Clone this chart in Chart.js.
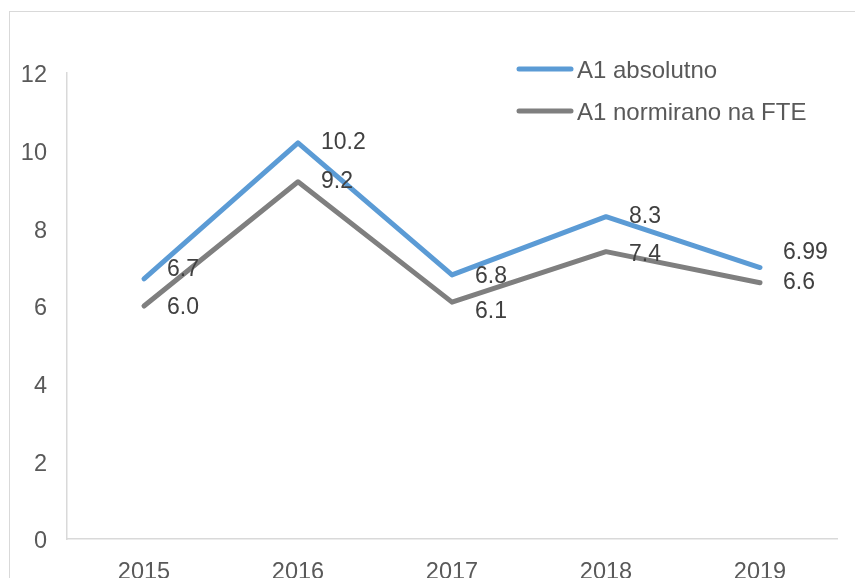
<!DOCTYPE html>
<html>
<head>
<meta charset="utf-8">
<script src="https://cdn.jsdelivr.net/npm/chart.js@4"></script>
<style>
html, body { margin:0; padding:0; background:#fff; }
#wrap { width:855px; height:578px; }
</style>
</head>
<body>
<div id="wrap"><canvas id="a1Chart" width="855" height="578"></canvas></div>
<script>
const years = ['2015','2016','2017','2018','2019'];

const absolutno = [6.7, 10.2, 6.8, 8.3, 6.99];
const normirano = [6.0, 9.2, 6.1, 7.4, 6.6];

const seriesNames = ['A1 absolutno','A1 normirano na FTE'];

const yTicks = [0, 2, 4, 6, 8, 10, 12];

const FONT = '"Liberation Sans", Arial, sans-serif';

// small vertical nudges for the value labels, like in the original
const labelNudge = [
[-9, 0, 2, 0, -15],
[2, 0, 10, 3, 0]
];

const labelFormat = [
v => String(v),
v => v.toFixed(1)
];

const frame = {
id:'frame',
beforeDraw(chart){
const ctx = chart.ctx;
ctx.save();
ctx.strokeStyle = '#D9D9D9';
ctx.lineWidth = 1;
ctx.strokeRect(9.5, 11.5, 900, 700);
ctx.restore();
}
};

const valueLabels = {
id:'valueLabels',
afterDatasetsDraw(chart){
const ctx = chart.ctx;
ctx.save();
ctx.font = '23px ' + FONT;
ctx.fillStyle = '#404040';
ctx.textAlign = 'left';
ctx.textBaseline = 'middle';
chart.data.datasets.forEach((ds, i) => {
const meta = chart.getDatasetMeta(i);
meta.data.forEach((pt, j) => {
ctx.fillText(labelFormat[i](ds.data[j]), pt.x + 23, pt.y + labelNudge[i][j]);
});
});
ctx.restore();
}
};

const lineLegend = {
id:'lineLegend',
afterDraw(chart){
const ctx = chart.ctx;
ctx.save();
ctx.font = '24px ' + FONT;
ctx.textAlign = 'left';
ctx.textBaseline = 'middle';
chart.data.datasets.forEach((ds, i) => {
const y = 69 + i * 42;
ctx.strokeStyle = ds.borderColor;
ctx.lineWidth = 5;
ctx.lineCap = 'round';
ctx.beginPath();
ctx.moveTo(519, y);
ctx.lineTo(571, y);
ctx.stroke();
ctx.fillStyle = '#595959';
ctx.fillText(ds.label, 577, y + 2);
});
ctx.restore();
}
};

const ctx =
document
.getElementById('a1Chart')
.getContext('2d');

new Chart(ctx,{

type:'line',

data:{

labels:years,

datasets:[{
label:seriesNames[0],
data:absolutno,
borderColor:'#5B9BD5',
borderWidth:5,
borderCapStyle:'round',
borderJoinStyle:'round',
pointRadius:0,
tension:0,
fill:false
},{
label:seriesNames[1],
data:normirano,
borderColor:'#7F7F7F',
borderWidth:5,
borderCapStyle:'round',
borderJoinStyle:'round',
pointRadius:0,
tension:0,
fill:false
}]
},

options:{
responsive:false,
animation:false,
layout:{
padding:{ top:73, right:18, left:0, bottom:0 }
},
plugins:{
legend:{ display:false },
tooltip:{ enabled:false }
},
scales:{
x:{
offset:true,
grid:{ display:false, drawTicks:false },
border:{ display:true, color:'#D9D9D9', width:1.5 },
ticks:{
color:'#595959',
padding:19,
font:{ family:FONT, size:23.5 }
},
afterFit(scale){ scale.height = 39; }
},
y:{
min:0,
max:12,
afterBuildTicks(scale){
scale.ticks = yTicks.map(v => ({ value:v }));
},
grid:{ display:false, drawTicks:false },
border:{ display:true, color:'#D9D9D9', width:1.5 },
ticks:{
color:'#595959',
padding:20,
labelOffset:3,
font:{ family:FONT, size:23.5 }
},
afterFit(scale){ scale.width = 67; }
}
}
},

plugins:[frame, valueLabels, lineLegend]

});
</script>
</body>
</html>
